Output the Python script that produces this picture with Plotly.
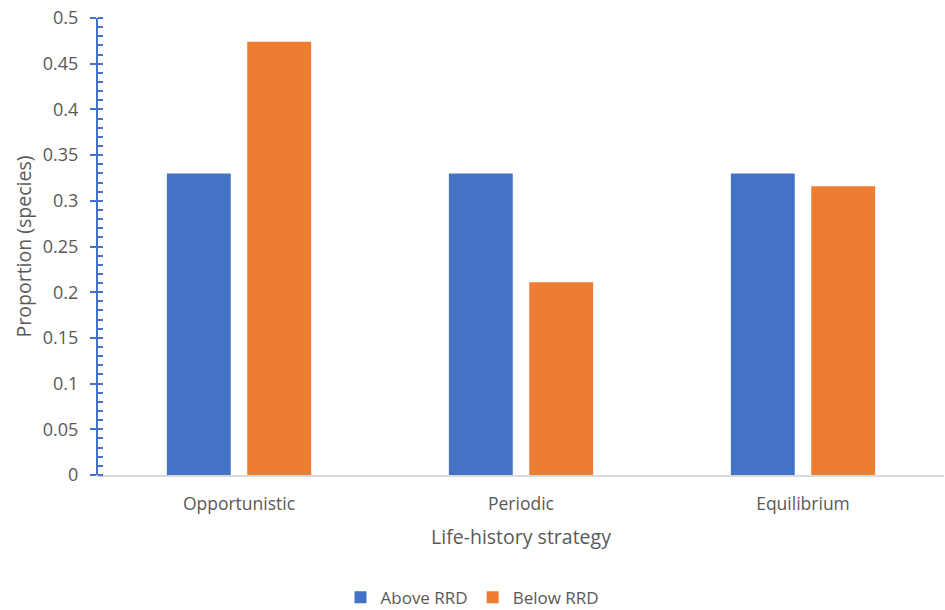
import plotly.graph_objects as go

categories = ["Opportunistic", "Periodic", "Equilibrium"]
above_rrd = [0.33, 0.33, 0.33]
below_rrd = [0.474, 0.211, 0.316]

BLUE = "#4472C4"
ORANGE = "#ED7D31"
TEXT = "#595959"
FONT = "Open Sans"

fig = go.Figure()
fig.add_trace(go.Bar(name="Above RRD", x=categories, y=above_rrd,
                     marker=dict(color=BLUE, line=dict(width=0))))
fig.add_trace(go.Bar(name="Below RRD", x=categories, y=below_rrd,
                     marker=dict(color=ORANGE, line=dict(width=0))))
# invisible helper trace so the crossing tick axis gets drawn
fig.add_trace(go.Scatter(x=categories, y=[0, 0, 0], yaxis="y2", mode="markers",
                         marker=dict(opacity=0), showlegend=False, hoverinfo="skip"))

fig.update_layout(
    width=945, height=610,
    margin=dict(l=98, r=1, t=18, b=135),
    paper_bgcolor="white", plot_bgcolor="white",
    barmode="group", bargap=0.43, bargroupgap=0.205,
    font=dict(family=FONT, color=TEXT, size=17),
    xaxis=dict(
        automargin=False,
        showgrid=False, showline=True, linecolor="#D9D9D9", linewidth=1.5,
        ticks="", ticklabelstandoff=12, tickfont=dict(size=17.5, color=TEXT),
        title=dict(text="Life-history strategy", font=dict(size=19.5, color=TEXT), standoff=17),
    ),
    yaxis=dict(
        automargin=False,
        range=[0, 0.5], dtick=0.05, tickformat="~g",
        showgrid=False, zeroline=False,
        showline=True, linecolor=BLUE, linewidth=2,
        ticks="outside", ticklen=6, tickwidth=1.5, tickcolor=BLUE,
        minor=dict(dtick=0.01, ticks="inside", ticklen=5, tickwidth=1.5, tickcolor=BLUE),
        ticklabelstandoff=8, tickfont=dict(size=18, color=TEXT),
        title=dict(text="Proportion (species)", font=dict(size=19.5, color=TEXT), standoff=6),
    ),
    yaxis2=dict(
        overlaying="y", side="left", range=[0, 0.5], dtick=0.05,
        showgrid=False, zeroline=False, showline=False, showticklabels=False,
        ticks="inside", ticklen=5, tickwidth=1.5, tickcolor=BLUE,
    ),
    legend=dict(orientation="h", x=0.5, xanchor="center", xref="container",
                y=0.02, yanchor="middle", yref="container",
                font=dict(size=17, color=TEXT), itemwidth=30, traceorder="normal"),
)

fig.write_html("out.html")
